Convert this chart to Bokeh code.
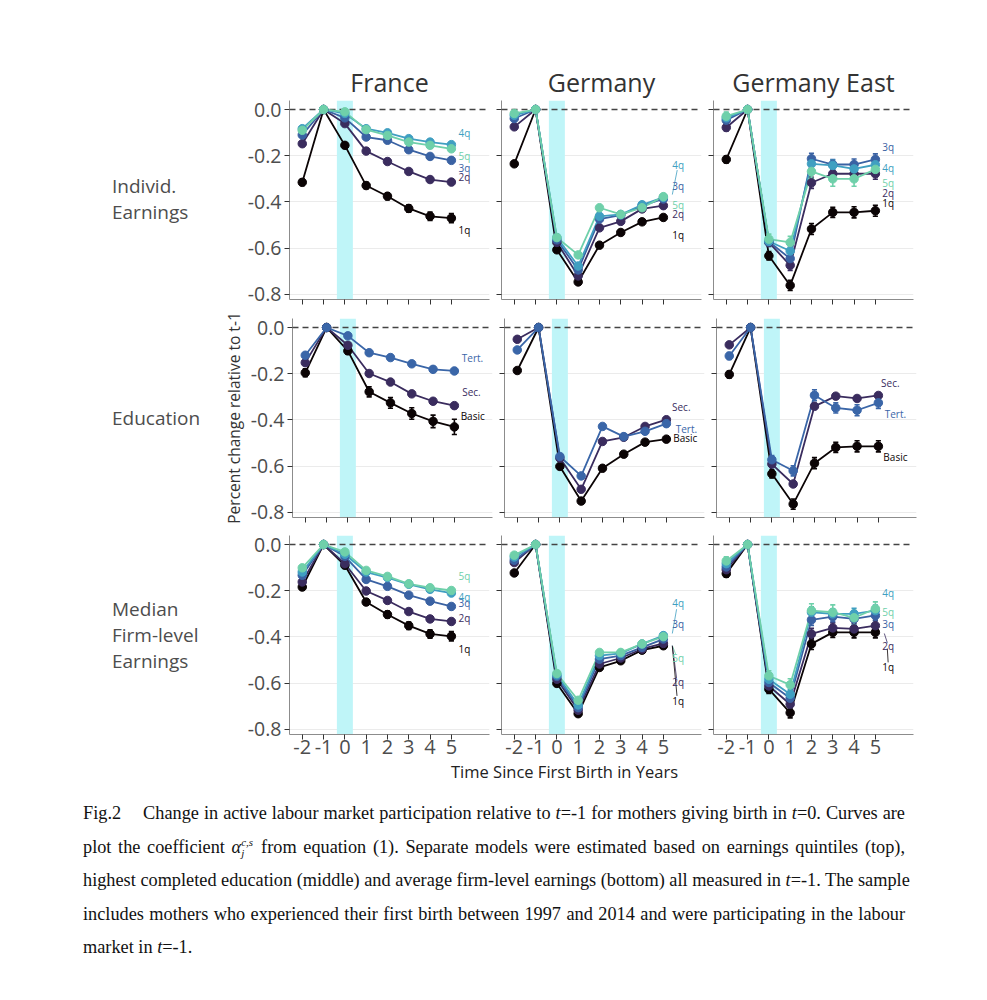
from bokeh.plotting import figure
from bokeh.models import (Span, BoxAnnotation, Div, Spacer, FixedTicker,
                          CustomLabelingPolicy)
from bokeh.layouts import column, row
from bokeh.embed import file_html
from bokeh.resources import INLINE
from bokeh.core.properties import value

# ---------------- data ----------------
years = [-2, -1, 0, 1, 2, 3, 4, 5]
year_labels = ["-2", "-1", "0", "1", "2", "3", "4", "5"]
countries = ["France", "Germany", "Germany East"]
row_names = [["Individ.", "Earnings"], ["Education"], ["Median", "Firm-level", "Earnings"]]
quintiles = ["1q", "2q", "3q", "4q", "5q"]
education = ["Basic", "Sec.", "Tert."]
y_ticks = [-0.8, -0.6, -0.4, -0.2, 0.0]
y_tick_labels = ["-0.8", "-0.6", "-0.4", "-0.2", "0.0"]
x_title = "Time Since First Birth in Years"
y_title = "Percent change relative to t-1"

# Individual earnings quintiles
ie_fr = {"1q": [-0.315, 0, -0.155, -0.329, -0.375, -0.428, -0.462, -0.470],
         "2q": [-0.148, 0, -0.061, -0.180, -0.225, -0.268, -0.303, -0.314],
         "3q": [-0.110, 0, -0.036, -0.119, -0.133, -0.174, -0.203, -0.220],
         "4q": [-0.083, 0, -0.017, -0.083, -0.101, -0.126, -0.141, -0.152],
         "5q": [-0.090, 0, -0.010, -0.087, -0.112, -0.141, -0.155, -0.170]}
ie_de = {"1q": [-0.235, 0, -0.607, -0.746, -0.587, -0.532, -0.486, -0.467],
         "2q": [-0.075, 0, -0.575, -0.720, -0.512, -0.484, -0.430, -0.416],
         "3q": [-0.039, 0, -0.564, -0.694, -0.474, -0.457, -0.416, -0.387],
         "4q": [-0.025, 0, -0.554, -0.677, -0.462, -0.454, -0.412, -0.380],
         "5q": [-0.017, 0, -0.554, -0.629, -0.425, -0.454, -0.425, -0.377]}
ie_ea = {"1q": [-0.216, 0, -0.633, -0.761, -0.517, -0.445, -0.445, -0.438],
         "2q": [-0.078, 0, -0.575, -0.674, -0.317, -0.278, -0.278, -0.278],
         "3q": [-0.046, 0, -0.572, -0.645, -0.213, -0.238, -0.238, -0.216],
         "4q": [-0.036, 0, -0.570, -0.612, -0.235, -0.242, -0.257, -0.239],
         "5q": [-0.029, 0, -0.561, -0.575, -0.268, -0.300, -0.300, -0.259]}
# Education
ed_fr = {"Basic": [-0.196, 0, -0.101, -0.278, -0.326, -0.372, -0.406, -0.430],
         "Sec.": [-0.152, 0, -0.077, -0.199, -0.236, -0.287, -0.319, -0.338],
         "Tert.": [-0.120, 0, -0.036, -0.109, -0.130, -0.157, -0.181, -0.188]}
ed_de = {"Basic": [-0.186, 0, -0.601, -0.751, -0.609, -0.548, -0.496, -0.483],
         "Sec.": [-0.051, 0, -0.565, -0.700, -0.493, -0.475, -0.428, -0.399],
         "Tert.": [-0.097, 0, -0.558, -0.642, -0.428, -0.472, -0.449, -0.416]}
ed_ea = {"Basic": [-0.203, 0, -0.633, -0.764, -0.587, -0.519, -0.514, -0.514],
         "Sec.": [-0.075, 0, -0.591, -0.677, -0.341, -0.297, -0.307, -0.294],
         "Tert.": [-0.123, 0, -0.572, -0.620, -0.293, -0.348, -0.358, -0.326]}
# Median firm-level earnings quintiles
mf_fr = {"1q": [-0.184, 0, -0.090, -0.249, -0.303, -0.351, -0.387, -0.397],
         "2q": [-0.162, 0, -0.083, -0.201, -0.242, -0.290, -0.322, -0.333],
         "3q": [-0.133, 0, -0.051, -0.151, -0.181, -0.219, -0.245, -0.268],
         "4q": [-0.119, 0, -0.042, -0.119, -0.143, -0.172, -0.194, -0.210],
         "5q": [-0.101, 0, -0.032, -0.112, -0.138, -0.170, -0.187, -0.199]}
mf_de = {"1q": [-0.123, 0, -0.601, -0.732, -0.532, -0.503, -0.457, -0.438],
         "2q": [-0.078, 0, -0.583, -0.717, -0.517, -0.491, -0.452, -0.428],
         "3q": [-0.068, 0, -0.571, -0.706, -0.496, -0.481, -0.445, -0.409],
         "4q": [-0.054, 0, -0.564, -0.694, -0.481, -0.471, -0.430, -0.394],
         "5q": [-0.046, 0, -0.558, -0.674, -0.467, -0.467, -0.430, -0.399]}
mf_ea = {"1q": [-0.126, 0, -0.626, -0.728, -0.430, -0.380, -0.380, -0.380],
         "2q": [-0.109, 0, -0.612, -0.691, -0.387, -0.361, -0.365, -0.351],
         "3q": [-0.097, 0, -0.597, -0.665, -0.326, -0.312, -0.322, -0.307],
         "4q": [-0.083, 0, -0.583, -0.648, -0.293, -0.300, -0.300, -0.286],
         "5q": [-0.071, 0, -0.568, -0.607, -0.286, -0.293, -0.317, -0.278]}

# half-widths of the confidence intervals (estimated)
err_small = [0.008, 0, 0.006, 0.008, 0.008, 0.009, 0.010, 0.010]
err_fr_1q = [0.014, 0, 0.010, 0.014, 0.015, 0.016, 0.018, 0.020]
err_fr_basic = [0.017, 0, 0.015, 0.022, 0.023, 0.025, 0.027, 0.033]
err_ea = [0.015, 0, 0.018, 0.022, 0.024, 0.022, 0.024, 0.024]
err_ea_5q = [0.018, 0, 0.022, 0.026, 0.030, 0.032, 0.032, 0.030]

# label positions (ggrepel output)
lab_ie_fr = {"1q": -0.523, "2q": -0.294, "3q": -0.255, "4q": -0.100, "5q": -0.200}
lab_ie_de = {"1q": -0.545, "2q": -0.454, "3q": -0.329, "4q": -0.238, "5q": -0.415}
lab_ie_ea = {"1q": -0.406, "2q": -0.363, "3q": -0.164, "4q": -0.251, "5q": -0.316}
lab_ed_fr = {"Basic": -0.381, "Sec.": -0.281, "Tert.": -0.134}
lab_ed_de = {"Basic": -0.476, "Sec.": -0.346, "Tert.": -0.437}
lab_ed_ea = {"Basic": -0.562, "Sec.": -0.242, "Tert.": -0.376}
lab_mf_fr = {"1q": -0.450, "2q": -0.316, "3q": -0.255, "4q": -0.229, "5q": -0.138}
lab_mf_de = {"1q": -0.675, "2q": -0.597, "3q": -0.346, "4q": -0.255, "5q": -0.493}
lab_mf_ea = {"1q": -0.528, "2q": -0.437, "3q": -0.342, "4q": -0.208, "5q": -0.294}
lab_x_q = [5.61, 5.70, 5.60]
lab_x_ed = [{"Basic": 5.86, "Sec.": 5.80, "Tert.": 5.85},
            {"Basic": 5.89, "Sec.": 5.70, "Tert.": 5.94},
            {"Basic": 5.80, "Sec.": 5.56, "Tert.": 5.80}]
# repel segments: group, x0, y0, x1, y1
seg_ie_de = [("4q", 5.65, -0.262, 5.42, -0.368)]
seg_mf_de = [("4q", 5.62, -0.280, 5.42, -0.385), ("5q", 5.42, -0.437, 5.58, -0.475),
             ("2q", 5.42, -0.437, 5.62, -0.578), ("1q", 5.42, -0.440, 5.64, -0.655)]
seg_mf_ea = [("2q", 5.42, -0.385, 5.56, -0.425), ("1q", 5.56, -0.450, 5.60, -0.510)]

q_colors = {"1q": "#0B0405", "2q": "#3A2C5E", "3q": "#3A62A3", "4q": "#409FC1", "5q": "#6FD0AA"}
e_colors = {"Basic": "#0B0405", "Sec.": "#3A2C5E", "Tert.": "#3A66A8"}

# ---------------- layout constants ----------------
FONT = "Open Sans"
FW, FH = 200, 199
XR = (-2.6, 6.79)
YR = (-0.822, 0.039)
LEFT_W = 219
BL = 70
TOP0 = 55
TOPS = [45, 11, 11]
BOTS = [8, 7, 34]
XLAB_H = 2
CAP_TOP = 797


def hide_labels(ax):
    ax.major_label_text_font_size = "0px"
    ax.major_label_standoff = 0
    ax.major_label_policy = CustomLabelingPolicy(code="return []")


def panel(ri, ci, vals, errs, colors, labx, laby, segs):
    p = figure(frame_width=FW, frame_height=FH, x_range=XR, y_range=YR,
               output_backend="svg", toolbar_location=None, tools="",
               min_border_left=BL if ci == 0 else 6, min_border_right=6,
               min_border_top=TOPS[ri], min_border_bottom=BOTS[ri],
               outline_line_color=None, background_fill_color="white",
               border_fill_color="white")
    if ri == 0:
        p.title.text = countries[ci]
        p.title.align = "center"
        p.title.text_font = FONT
        p.title.text_font_size = "25px"
        p.title.text_font_style = "normal"
        p.title.text_color = "#333333"
        p.title.standoff = 4

    p.xgrid.visible = False
    p.ygrid.ticker = FixedTicker(ticks=y_ticks[:-1])
    p.ygrid.grid_line_color = "#EBEBEB"
    p.ygrid.grid_line_width = 1

    p.yaxis.ticker = FixedTicker(ticks=y_ticks)
    p.yaxis.major_label_overrides = {t: l for t, l in zip(y_ticks, y_tick_labels)}
    p.xaxis.ticker = FixedTicker(ticks=years)
    p.xaxis.major_label_overrides = {t: l for t, l in zip(years, year_labels)}
    for ax in (p.xaxis[0], p.yaxis[0]):
        ax.axis_line_color = "#8C8C8C"
        ax.axis_line_width = 1
        ax.major_tick_line_color = "#333333"
        ax.major_tick_out = 5
        ax.major_tick_in = 0
        ax.minor_tick_line_color = None
        ax.major_label_text_font = FONT
        ax.major_label_text_color = "#4D4D4D"
    p.yaxis.major_label_text_font_size = "19.5px"
    p.yaxis.major_label_standoff = 3
    p.xaxis.major_label_text_font_size = "20px"
    p.xaxis.major_label_standoff = 0
    if ci != 0:
        hide_labels(p.yaxis[0])
    if ri != 2:
        hide_labels(p.xaxis[0])
    if ri == 1 and ci == 0:
        p.yaxis.axis_label = y_title
        p.yaxis.axis_label_text_font = FONT
        p.yaxis.axis_label_text_font_size = "15.5px"
        p.yaxis.axis_label_text_font_style = "normal"
        p.yaxis.axis_label_text_color = "#333333"
        p.yaxis.axis_label_standoff = 3

    band = BoxAnnotation(left=-0.375, right=0.375, fill_color="#BFF5F8", fill_alpha=1.0,
                         line_color=None, level="underlay")
    p.add_layout(band)
    p.add_layout(Span(location=0, dimension="width", line_color="#444444",
                      line_width=1.3, line_dash="6 4", level="underlay"))

    groups = list(vals.keys())
    for g in groups:
        p.line(years, vals[g], line_color=colors[g], line_width=1.8)
    for g in groups:
        e = errs[g]
        xs = [x for x, ee in zip(years, e) if ee > 0]
        lo = [v - ee for v, ee in zip(vals[g], e) if ee > 0]
        hi = [v + ee for v, ee in zip(vals[g], e) if ee > 0]
        p.segment(x0=xs, y0=lo, x1=xs, y1=hi, line_color=colors[g], line_width=1.6)
        p.segment(x0=[x - 0.12 for x in xs], y0=lo, x1=[x + 0.12 for x in xs], y1=lo,
                  line_color=colors[g], line_width=1.6)
        p.segment(x0=[x - 0.12 for x in xs], y0=hi, x1=[x + 0.12 for x in xs], y1=hi,
                  line_color=colors[g], line_width=1.6)
    for g in groups:
        p.scatter(years, vals[g], size=8.5, fill_color=colors[g], line_color=colors[g])
    for (g, x0, y0, x1, y1) in segs:
        p.segment(x0=[x0], y0=[y0], x1=[x1], y1=[y1], line_color=colors[g], line_width=0.8)
    for g in groups:
        lx = labx[g] if isinstance(labx, dict) else labx
        p.text(x=[lx], y=[laby[g]], text=[g], text_color=colors[g],
               text_font=value(FONT), text_font_size="10px",
               text_align="center", text_baseline="middle")
    return p


def errs_for(groups, default, special):
    return {g: special.get(g, default) for g in groups}


panels_spec = [
    [(ie_fr, errs_for(quintiles, err_small, {"1q": err_fr_1q}), q_colors, lab_x_q[0], lab_ie_fr, []),
     (ie_de, errs_for(quintiles, err_small, {}), q_colors, lab_x_q[1], lab_ie_de, seg_ie_de),
     (ie_ea, errs_for(quintiles, err_ea, {"5q": err_ea_5q}), q_colors, lab_x_q[2], lab_ie_ea, [])],
    [(ed_fr, errs_for(education, err_small, {"Basic": err_fr_basic}), e_colors, lab_x_ed[0], lab_ed_fr, []),
     (ed_de, errs_for(education, err_small, {}), e_colors, lab_x_ed[1], lab_ed_de, []),
     (ed_ea, errs_for(education, err_ea, {"Sec.": err_small}), e_colors, lab_x_ed[2], lab_ed_ea, [])],
    [(mf_fr, errs_for(quintiles, err_small, {"1q": err_fr_1q}), q_colors, lab_x_q[0], lab_mf_fr, []),
     (mf_de, errs_for(quintiles, err_small, {}), q_colors, lab_x_q[1], lab_mf_de, seg_mf_de),
     (mf_ea, errs_for(quintiles, err_ea, {"5q": err_ea_5q}), q_colors, lab_x_q[2], lab_mf_ea, seg_mf_ea)],
]

rows = []
for ri in range(3):
    figs = [panel(ri, ci, *panels_spec[ri][ci]) for ci in range(3)]
    h = TOPS[ri] + FH + BOTS[ri]
    names = row_names[ri]
    lh = 26
    top = TOPS[ri] + FH / 2 - len(names) * lh / 2
    html = ('<div style="margin-top:%dpx;margin-left:112px;font-family:\'Open Sans\';'
            'font-size:19px;line-height:%dpx;color:#4D4D4D;white-space:nowrap">%s</div>'
            % (round(top), lh, "<br>".join(names)))
    lab = Div(text=html, width=LEFT_W, height=h, margin=(0, 0, 0, 0))
    rows.append(row(lab, *figs, spacing=0))

# x-axis title, centred under the middle column of panels
xlab_html = ('<div style="position:relative;top:-2px;font-family:\'Open Sans\';font-size:16.5px;'
             'line-height:%dpx;color:#222222;text-align:center;white-space:nowrap">%s</div>'
             % (XLAB_H, x_title))
x_label = Div(text=xlab_html, width=300, height=XLAB_H, margin=(0, 0, 0, 0))
x_label_row = row(Spacer(width=451, height=XLAB_H), x_label, spacing=0)

ital = lambda s: "<i>%s</i>" % s
alpha = ('<i>&alpha;</i>'
         '<span style="display:inline-block;width:0;position:relative;top:-0.62em;'
         'font-size:0.6em;line-height:1"><i>c,s</i></span>'
         '<span style="display:inline-block;position:relative;top:0.42em;'
         'font-size:0.6em;line-height:1;width:1.2em"><i>j</i></span>')
lines = [
    'Fig.2<span style="display:inline-block;width:22px"></span>Change in active labour market participation relative to %s=-1 for mothers giving birth in %s=0. Curves are' % (ital("t"), ital("t")),
    'plot the coefficient %s from equation (1). Separate models were estimated based on earnings quintiles (top),' % alpha,
    'highest completed education (middle) and average firm-level earnings (bottom) all measured in %s=-1. The sample' % ital("t"),
    'includes mothers who experienced their first birth between 1997 and 2014 and were participating in the labour',
    'market in %s=-1.' % ital("t"),
]
cap_html = ('<div style="font-family:\'Liberation Serif\';font-size:18.3px;line-height:33.5px;'
            'color:#111;width:822px">')
for i, ln in enumerate(lines):
    last = "justify" if i < len(lines) - 1 else "left"
    cap_html += ('<div style="text-align:justify;text-align-last:%s;height:33.5px;'
                 'white-space:nowrap">%s</div>' % (last, ln))
cap_html += '</div>'
caption = Div(text=cap_html, width=822, height=175, margin=(0, 0, 0, 0))

used = TOP0 + sum(TOPS) + 3 * FH + sum(BOTS) + XLAB_H
layout = column(Spacer(height=TOP0, width=10), *rows, x_label_row,
                Spacer(height=CAP_TOP - used, width=10),
                row(Spacer(width=83, height=10), caption, spacing=0), spacing=0)

open("out.html", "w").write(file_html(layout, INLINE))
